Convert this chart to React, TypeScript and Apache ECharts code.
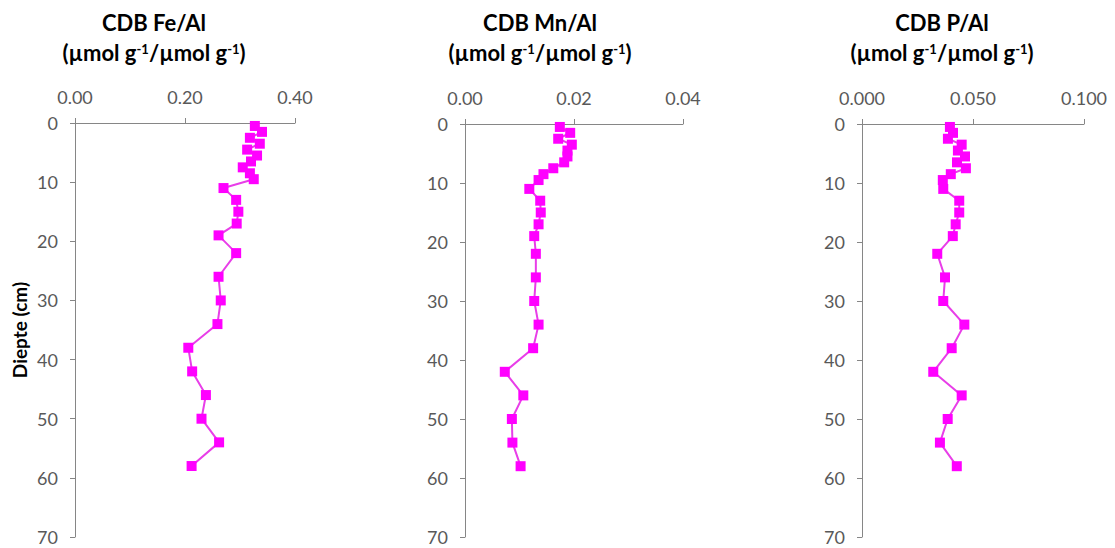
import React, { useEffect, useRef } from "react";
import * as echarts from "echarts";

const depths = [0.5, 1.5, 2.5, 3.5, 4.5, 5.5, 6.5, 7.5, 8.5, 9.5, 11, 13, 15, 17, 19, 22, 26, 30, 34, 38, 42, 46, 50, 54, 58];
const feAl = [0.327, 0.34, 0.318, 0.336, 0.313, 0.331, 0.32, 0.305, 0.318, 0.325, 0.27, 0.293, 0.297, 0.294, 0.261, 0.293, 0.261, 0.265, 0.259, 0.206, 0.213, 0.238, 0.23, 0.262, 0.212];
const mnAl = [0.0174, 0.0193, 0.0171, 0.0196, 0.0188, 0.0188, 0.0182, 0.0162, 0.0144, 0.0135, 0.0118, 0.0138, 0.0139, 0.0135, 0.0127, 0.013, 0.013, 0.0127, 0.0135, 0.0125, 0.0073, 0.0107, 0.0086, 0.0087, 0.0102];
const pAl = [0.0396, 0.041, 0.0387, 0.0449, 0.0432, 0.0464, 0.0428, 0.0468, 0.04, 0.0364, 0.0366, 0.0438, 0.0438, 0.0422, 0.0409, 0.0339, 0.0374, 0.0366, 0.0461, 0.0404, 0.0321, 0.0449, 0.0386, 0.0351, 0.0427];

const titles = ["CDB Fe/Al", "CDB Mn/Al", "CDB P/Al"];
const xMax = [0.4, 0.04, 0.1];
const xInterval = [0.2, 0.02, 0.05];
const xDecimals = [2, 2, 3];
const depthTicks = { min: 0, max: 70, interval: 10 };
const yAxisName = "Diepte (cm)";

const FONT = "Lato";
const LABEL = "#595959";
const AXIS = "#868686";
const MAG = "#ff00ff";

export default function App() {
  const ref = useRef<HTMLDivElement>(null);
  useEffect(() => {
    if (!ref.current) return;
    const chart = echarts.init(ref.current, null, { renderer: "svg" });
    const grids = [
      { left: 75, top: 123, width: 220, height: 414 },
      { left: 465, top: 124, width: 218, height: 413 },
      { left: 862, top: 124, width: 222, height: 413 },
    ];
    const titleX = [149, 535, 937];
    const seriesData = [feAl, mnAl, pAl];
    const rich = {
      b: { fontFamily: FONT, fontWeight: "bold", fontSize: 22, color: "#000", lineHeight: 30 },
      s: { fontFamily: FONT, fontWeight: "bold", fontSize: 13, color: "#000", lineHeight: 30, verticalAlign: "top", padding: [5, 0, 0, 0] },
    };
    const option: any = {
      animation: false,
      backgroundColor: "#fff",
      title: titles.map((t, i) => ({
        text: `{b|${t}}\n{b|(µmol g}{s|-1}{b|/µmol g}{s|-1}{b|)}`,
        left: titleX[i],
        top: 2,
        textAlign: "center",
        textStyle: { rich },
      })),
      grid: grids,
      xAxis: grids.map((_, i) => ({
        type: "value",
        gridIndex: i,
        position: "top",
        min: 0,
        max: xMax[i],
        interval: xInterval[i],
        splitLine: { show: false },
        axisLine: { show: true, lineStyle: { color: AXIS, width: 1 } },
        axisTick: { show: true, length: 5, lineStyle: { color: AXIS } },
        axisLabel: {
          margin: 17,
          color: LABEL,
          fontFamily: FONT,
          fontSize: 18,
          formatter: (v: number) => v.toFixed(xDecimals[i]),
        },
      })),
      yAxis: grids.map((_, i) => ({
        type: "value",
        gridIndex: i,
        inverse: true,
        min: depthTicks.min,
        max: depthTicks.max,
        interval: depthTicks.interval,
        name: i === 0 ? yAxisName : "",
        nameLocation: "middle",
        nameGap: 46,
        nameTextStyle: { fontFamily: FONT, fontWeight: "bold", fontSize: 19, color: "#000" },
        splitLine: { show: false },
        axisLine: { show: true, onZero: false, lineStyle: { color: AXIS, width: 1 } },
        axisTick: { show: true, length: 5, lineStyle: { color: AXIS } },
        axisLabel: { margin: 17, color: LABEL, fontFamily: FONT, fontSize: 18 },
      })),
      series: seriesData.map((vals, i) => ({
        type: "line",
        xAxisIndex: i,
        yAxisIndex: i,
        data: vals.map((v, k) => [v, depths[k]]),
        symbol: "rect",
        symbolSize: 10,
        itemStyle: { color: MAG },
        lineStyle: { color: "#e83ee8", width: 2 },
      })),
    };
    chart.setOption(option);
    return () => chart.dispose();
  }, []);
  return (
    <div
      ref={ref}
      style={{ position: "fixed", left: 0, top: 0, width: 1115, height: 548, background: "#fff" }}
    />
  );
}
